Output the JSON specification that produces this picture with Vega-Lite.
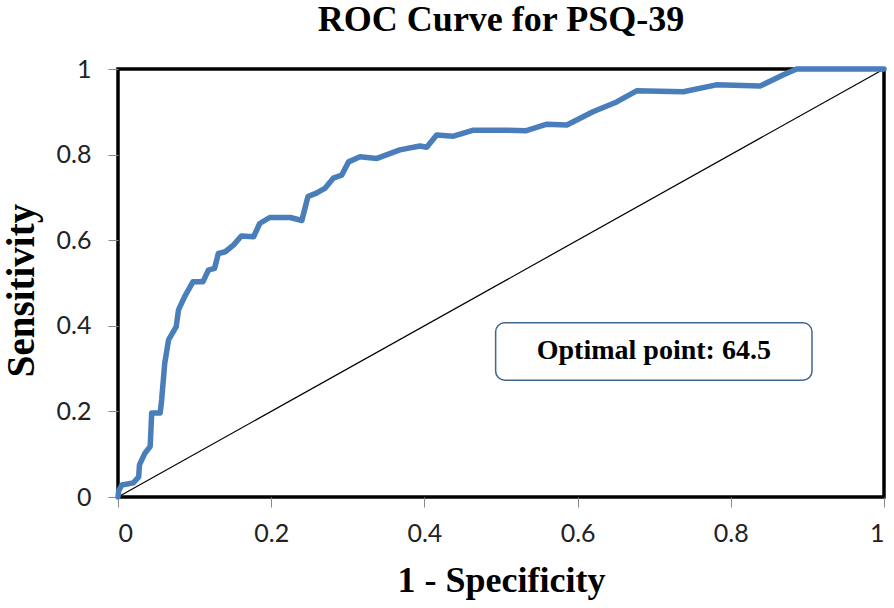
{
  "$schema": "https://vega.github.io/schema/vega-lite/v6.json",
  "width": 766,
  "height": 428,
  "autosize": {"type": "none"},
  "padding": {"left": 118, "top": 69, "right": 10, "bottom": 111},
  "background": "white",
  "title": {
    "text": "ROC Curve for PSQ-39",
    "font": "Liberation Serif",
    "fontSize": 36,
    "fontWeight": "bold",
    "color": "black",
    "anchor": "middle",
    "frame": "group",
    "baseline": "bottom",
    "offset": 26,
    "dy": 44
  },
  "config": {
    "view": {"stroke": "black", "strokeWidth": 3.5},
    "axis": {
      "grid": false,
      "domain": false,
      "tickColor": "#888888",
      "tickSize": 10,
      "labelFont": "Lato",
      "labelFontSize": 25,
      "labelColor": "#222222",
      "titleFont": "Liberation Serif",
      "titleFontSize": 36,
      "titleFontWeight": "bold",
      "titleColor": "black"
    }
  },
  "datasets": {
    "roc": [
      {"fpr": 0, "tpr": 0},
      {"fpr": 0.001, "tpr": 0.015},
      {"fpr": 0.005, "tpr": 0.028},
      {"fpr": 0.02, "tpr": 0.033},
      {"fpr": 0.027, "tpr": 0.047},
      {"fpr": 0.028, "tpr": 0.075},
      {"fpr": 0.035, "tpr": 0.102},
      {"fpr": 0.042, "tpr": 0.118},
      {"fpr": 0.044, "tpr": 0.196},
      {"fpr": 0.055, "tpr": 0.196},
      {"fpr": 0.057, "tpr": 0.227},
      {"fpr": 0.061, "tpr": 0.312},
      {"fpr": 0.066, "tpr": 0.367},
      {"fpr": 0.076, "tpr": 0.398},
      {"fpr": 0.079, "tpr": 0.437},
      {"fpr": 0.087, "tpr": 0.468},
      {"fpr": 0.098, "tpr": 0.503},
      {"fpr": 0.111, "tpr": 0.503},
      {"fpr": 0.118, "tpr": 0.53},
      {"fpr": 0.126, "tpr": 0.534},
      {"fpr": 0.131, "tpr": 0.569},
      {"fpr": 0.14, "tpr": 0.573},
      {"fpr": 0.151, "tpr": 0.589},
      {"fpr": 0.161, "tpr": 0.61},
      {"fpr": 0.177, "tpr": 0.608},
      {"fpr": 0.185, "tpr": 0.639},
      {"fpr": 0.198, "tpr": 0.653},
      {"fpr": 0.225, "tpr": 0.653},
      {"fpr": 0.24, "tpr": 0.646},
      {"fpr": 0.248, "tpr": 0.702},
      {"fpr": 0.259, "tpr": 0.71},
      {"fpr": 0.27, "tpr": 0.721},
      {"fpr": 0.281, "tpr": 0.745},
      {"fpr": 0.292, "tpr": 0.752},
      {"fpr": 0.301, "tpr": 0.783},
      {"fpr": 0.316, "tpr": 0.795},
      {"fpr": 0.338, "tpr": 0.791},
      {"fpr": 0.368, "tpr": 0.811},
      {"fpr": 0.394, "tpr": 0.82},
      {"fpr": 0.403, "tpr": 0.817},
      {"fpr": 0.416, "tpr": 0.846},
      {"fpr": 0.438, "tpr": 0.843},
      {"fpr": 0.464, "tpr": 0.857},
      {"fpr": 0.499, "tpr": 0.857},
      {"fpr": 0.533, "tpr": 0.856},
      {"fpr": 0.56, "tpr": 0.871},
      {"fpr": 0.586, "tpr": 0.869},
      {"fpr": 0.62, "tpr": 0.9},
      {"fpr": 0.651, "tpr": 0.923},
      {"fpr": 0.677, "tpr": 0.949},
      {"fpr": 0.738, "tpr": 0.947},
      {"fpr": 0.781, "tpr": 0.963},
      {"fpr": 0.838, "tpr": 0.96},
      {"fpr": 0.868, "tpr": 0.986},
      {"fpr": 0.886, "tpr": 1.0},
      {"fpr": 1, "tpr": 1}
    ],
    "diag": [
      {"fpr": 0, "tpr": 0},
      {"fpr": 1, "tpr": 1}
    ],
    "note": [
      {"x1": 0.493, "x2": 0.906, "y1": 0.273, "y2": 0.407, "xc": 0.6995, "yc": 0.34, "label": "Optimal point: 64.5"}
    ]
  },
  "layer": [
    {
      "data": {"name": "diag"},
      "mark": {"type": "line", "color": "black", "strokeWidth": 1.2},
      "encoding": {
        "x": {
          "field": "fpr", "type": "quantitative",
          "scale": {"domain": [0, 1], "nice": false},
          "axis": {"values": [0, 0.2, 0.4, 0.6, 0.8, 1], "format": "~g", "title": "1 - Specificity", "labelPadding": 14, "titleX": 383, "titleY": 83, "titleBaseline": "middle"}
        },
        "y": {
          "field": "tpr", "type": "quantitative",
          "scale": {"domain": [0, 1], "nice": false},
          "axis": {"values": [0, 0.2, 0.4, 0.6, 0.8, 1], "format": "~g", "title": "Sensitivity", "titleFontSize": 39, "labelPadding": 17, "titleX": -97, "titleY": 221, "titleBaseline": "middle"}
        }
      }
    },
    {
      "data": {"name": "roc"},
      "mark": {"type": "line", "color": "#4A7EBB", "strokeWidth": 5.5, "strokeJoin": "round", "strokeCap": "round"},
      "encoding": {
        "x": {"field": "fpr", "type": "quantitative"},
        "y": {"field": "tpr", "type": "quantitative"}
      }
    },
    {
      "data": {"name": "note"},
      "mark": {"type": "rect", "fill": "white", "stroke": "#41668F", "strokeWidth": 1.5, "cornerRadius": 9},
      "encoding": {
        "x": {"field": "x1", "type": "quantitative"},
        "x2": {"field": "x2"},
        "y": {"field": "y1", "type": "quantitative"},
        "y2": {"field": "y2"}
      }
    },
    {
      "data": {"name": "note"},
      "mark": {"type": "text", "font": "Liberation Serif", "fontSize": 28, "fontWeight": "bold", "color": "black", "align": "center", "baseline": "middle"},
      "encoding": {
        "x": {"field": "xc", "type": "quantitative"},
        "y": {"field": "yc", "type": "quantitative"},
        "text": {"field": "label"}
      }
    }
  ]
}
